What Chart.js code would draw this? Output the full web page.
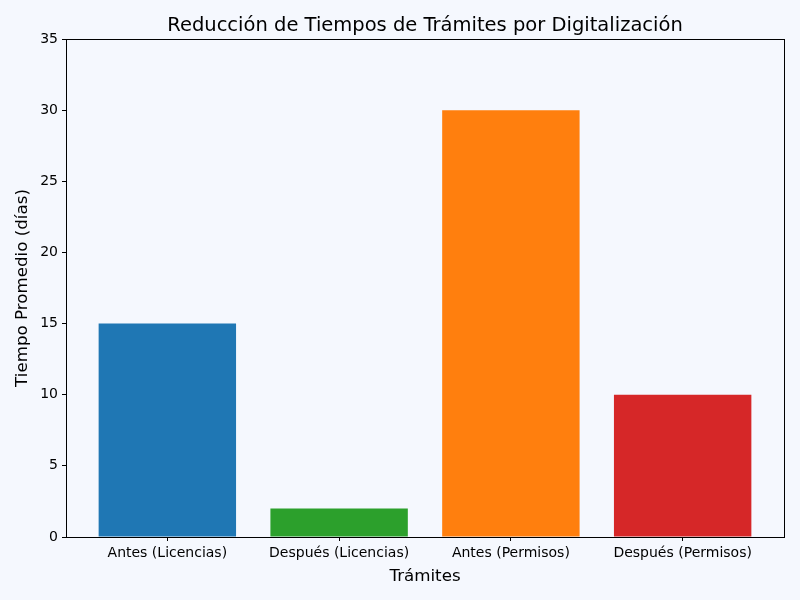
<!DOCTYPE html>
<html>
<head>
<meta charset="utf-8">
<script src="https://cdn.jsdelivr.net/npm/chart.js@4"></script>
<style>
html,body{margin:0;padding:0;background:#f5f8fe;}
#wrap{width:800px;height:600px;}
</style>
</head>
<body>
<div id="wrap"><canvas id="c" width="800" height="600"></canvas></div>
<script>
const categories = ["Antes (Licencias)", "Después (Licencias)", "Antes (Permisos)", "Después (Permisos)"];
const values = [15, 2, 30, 10];
const barColors = ["#1f77b4", "#2ca02c", "#ff7f0e", "#d62728"];
const yTicks = [0, 5, 10, 15, 20, 25, 30, 35];

const FONT = "'DejaVu Sans', sans-serif";

const framePlugin = {
  id: 'frame',
  beforeDraw(chart) {
    const ctx = chart.ctx;
    ctx.save();
    ctx.fillStyle = '#f5f8fe';
    ctx.fillRect(0, 0, chart.width, chart.height);
    ctx.restore();
  },
  afterDraw(chart) {
    const a = chart.chartArea;
    const ctx = chart.ctx;
    ctx.save();
    ctx.strokeStyle = '#000';
    ctx.lineWidth = 1;
    ctx.strokeRect(Math.round(a.left) + 0.5, Math.round(a.top) + 0.5, Math.round(a.right - a.left), Math.round(a.bottom - a.top));
    ctx.restore();
  }
};

new Chart(document.getElementById('c'), {
  type: 'bar',
  data: {
    datasets: [{
      data: values.map((v, i) => ({x: i, y: v})),
      backgroundColor: barColors,
      borderColor: 'rgba(0,0,0,0)',
      borderWidth: 0,
      inflateAmount: 0,
      barPercentage: 0.8,
      categoryPercentage: 1.0
    }]
  },
  options: {
    responsive: false,
    animation: false,
    layout: {padding: {left: 13, right: 16, top: 0, bottom: 13}},
    plugins: {
      legend: {display: false},
      tooltip: {enabled: false},
      title: {
        display: true,
        fullSize: false,
        text: 'Reducción de Tiempos de Trámites por Digitalización',
        color: '#000',
        font: {family: FONT, size: 19.5, weight: 'normal'},
        padding: {top: 14, bottom: 1.6}
      }
    },
    scales: {
      x: {
        type: 'linear',
        min: -0.59,
        max: 3.59,
        offset: false,
        afterBuildTicks(scale) { scale.ticks = categories.map((c, i) => ({value: i})); },
        afterFit(scale) { scale.height = 50; },
        ticks: {
          color: '#000',
          font: {family: FONT, size: 14},
          padding: 4,
          maxRotation: 0,
          autoSkip: false,
          callback: (v) => categories[v] ?? ''
        },
        grid: {display: true, offset: false, drawOnChartArea: false, drawTicks: true, tickLength: 4, color: '#000'},
        border: {display: true, color: '#000'},
        title: {display: true, text: 'Trámites', color: '#000', font: {family: FONT, size: 16.7}, padding: {top: 2, bottom: 0}}
      },
      y: {
        min: 0,
        max: 35,
        afterBuildTicks(scale) { scale.ticks = yTicks.map(v => ({value: v})); },
        afterFit(scale) { scale.width = 53; },
        ticks: {color: '#000', font: {family: FONT, size: 14}, padding: 4},
        grid: {display: true, offset: false, drawOnChartArea: false, drawTicks: true, tickLength: 4, color: '#000'},
        border: {display: true, color: '#000'},
        title: {display: true, text: 'Tiempo Promedio (días)', color: '#000', font: {family: FONT, size: 16.7}, padding: {top: 0, bottom: 4}}
      }
    }
  },
  plugins: [framePlugin]
});
</script>
</body>
</html>
